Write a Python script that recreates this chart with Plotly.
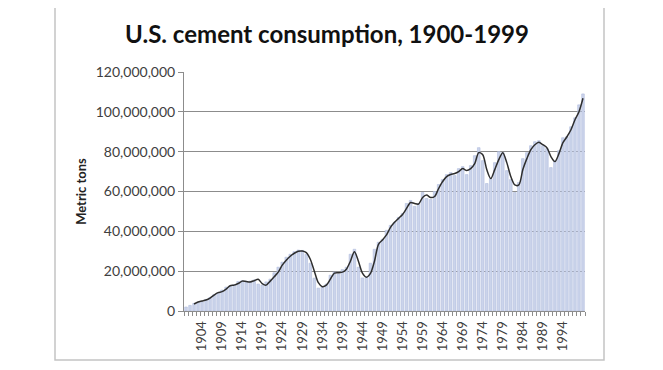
import plotly.graph_objects as go

years = list(range(1900, 2000))

# Annual consumption (million metric tons)
consumption_mt = [
    2.0, 2.8, 3.8, 4.3, 4.6, 5.8, 6.8, 8.2, 8.8, 10.5,
    12.0, 12.5, 13.2, 14.8, 15.2, 14.9, 15.0, 15.6, 13.5, 13.0,
    14.6, 16.0, 19.2, 22.0, 24.5, 27.0, 28.5, 29.8, 30.6, 30.4,
    28.5, 24.0, 16.5, 11.5, 12.0, 13.5, 18.0, 19.5, 18.5, 20.8,
    22.0, 28.5, 31.0, 22.0, 16.6, 17.0, 24.0, 31.0, 34.5, 36.0,
    40.5, 43.0, 44.5, 47.0, 49.0, 54.0, 55.5, 52.5, 54.0, 59.5,
    56.5, 56.0, 60.0, 63.5, 66.0, 68.5, 69.5, 68.0, 71.5, 72.5,
    68.5, 73.0, 78.0, 82.0, 75.5, 64.0, 66.5, 74.5, 80.0, 79.5,
    70.5, 66.0, 59.5, 64.5, 76.5, 79.5, 83.0, 85.0, 85.5, 83.0,
    81.5, 72.0, 75.5, 80.5, 87.0, 87.5, 92.5, 97.0, 103.5, 109.0,
]

# Trend line (million metric tons), 1902-1999
trend_years = list(range(1902, 2000))
trend_mt = [
    3.5, 4.5, 5.0, 5.5, 6.5, 8.0, 9.2, 9.7,
    11.0, 12.7, 13.0, 13.8, 15.0, 14.8, 14.6, 15.2, 15.9, 13.8,
    13.0, 15.0, 17.2, 19.5, 23.0, 25.5, 27.5, 29.0, 30.0, 30.1,
    29.3, 26.0, 20.0, 14.2, 12.2, 13.0, 16.0, 19.0, 19.2, 19.5,
    21.0, 25.0, 29.8, 25.0, 19.0, 17.0, 18.9, 25.0, 33.5, 35.7,
    38.2, 42.0, 44.5, 46.5, 48.5, 51.5, 54.5, 54.0, 53.7, 57.0,
    58.2, 57.0, 57.5, 61.5, 65.0, 67.5, 68.5, 69.0, 70.0, 71.5,
    70.5, 71.5, 74.0, 79.5, 78.5, 71.0, 66.5, 71.0, 76.0, 79.5,
    74.5, 67.5, 63.3, 63.3, 71.0, 76.5, 81.0, 83.5, 84.7, 83.5,
    82.0, 77.5, 75.0, 79.0, 84.5, 87.5, 91.0, 96.0, 100.0, 106.8,
]

consumption = [v * 1e6 for v in consumption_mt]
trend = [v * 1e6 for v in trend_mt]

tick_years = list(range(1904, 1995, 5))
tick_labels = [str(y) for y in tick_years]

FONT = "Lato"
PW, PH = 401, 239  # plot area size in px

fig = go.Figure()
fig.add_trace(go.Bar(
    x=years, y=consumption,
    marker=dict(color="#cbd4eb", line=dict(color="#b0bcdd", width=0.6)),
    showlegend=False, hoverinfo="x+y",
))
fig.add_trace(go.Scatter(
    x=trend_years, y=trend, mode="lines",
    line=dict(color="#2e2e2e", width=1.5, shape="spline", smoothing=0.8),
    showlegend=False,
))

fig.update_layout(
    width=663, height=370,
    margin=dict(l=176, r=86, t=64, b=67),
    paper_bgcolor="white", plot_bgcolor="white",
    bargap=0.35,
    font=dict(family=FONT, color="#404040"),
    title=dict(
        text="<b>U.S. cement consumption, 1900-1999</b>",
        font=dict(family=FONT, size=24, color="#111111"),
        x=319 / 663, xref="container", xanchor="center",
        y=1 - 27 / 370, yref="container", yanchor="middle",
    ),
    shapes=[dict(
        type="rect", xref="paper", yref="paper",
        x0=(55 - 184) / PW, x1=(604 - 184) / PW,
        y0=(311 - 360) / PH, y1=(311 - 3) / PH,
        line=dict(color="#c4c4c4", width=1.5), fillcolor="rgba(0,0,0,0)",
        layer="below",
    )],
)

fig.update_xaxes(
    range=[1899.5, 1999.5],
    tickmode="array", tickvals=tick_years, ticktext=tick_labels,
    tickangle=-90, ticks="", ticklabelstandoff=4,
    tickfont=dict(family=FONT, size=13, color="#404040"),
    showgrid=False, showline=True, linecolor="#8c8c8c", linewidth=1,
    zeroline=False,
    minor=dict(ticks="outside", tickmode="linear", tick0=1899.5, dtick=1,
               ticklen=4, tickcolor="#8c8c8c", tickwidth=1, showgrid=False),
)
fig.update_yaxes(
    range=[0, 120e6], dtick=20e6, tick0=0, tickformat=",d",
    ticks="outside", ticklen=5, tickcolor="#8c8c8c",
    tickfont=dict(family=FONT, size=14, color="#404040"),
    showgrid=True, gridcolor="#8c8c8c", gridwidth=1,
    showline=True, linecolor="#8c8c8c", linewidth=1,
    zeroline=False,
    title=dict(text="<b>Metric tons</b>", font=dict(family=FONT, size=13, color="#222222"), standoff=6),
)

fig.write_html("out.html")
